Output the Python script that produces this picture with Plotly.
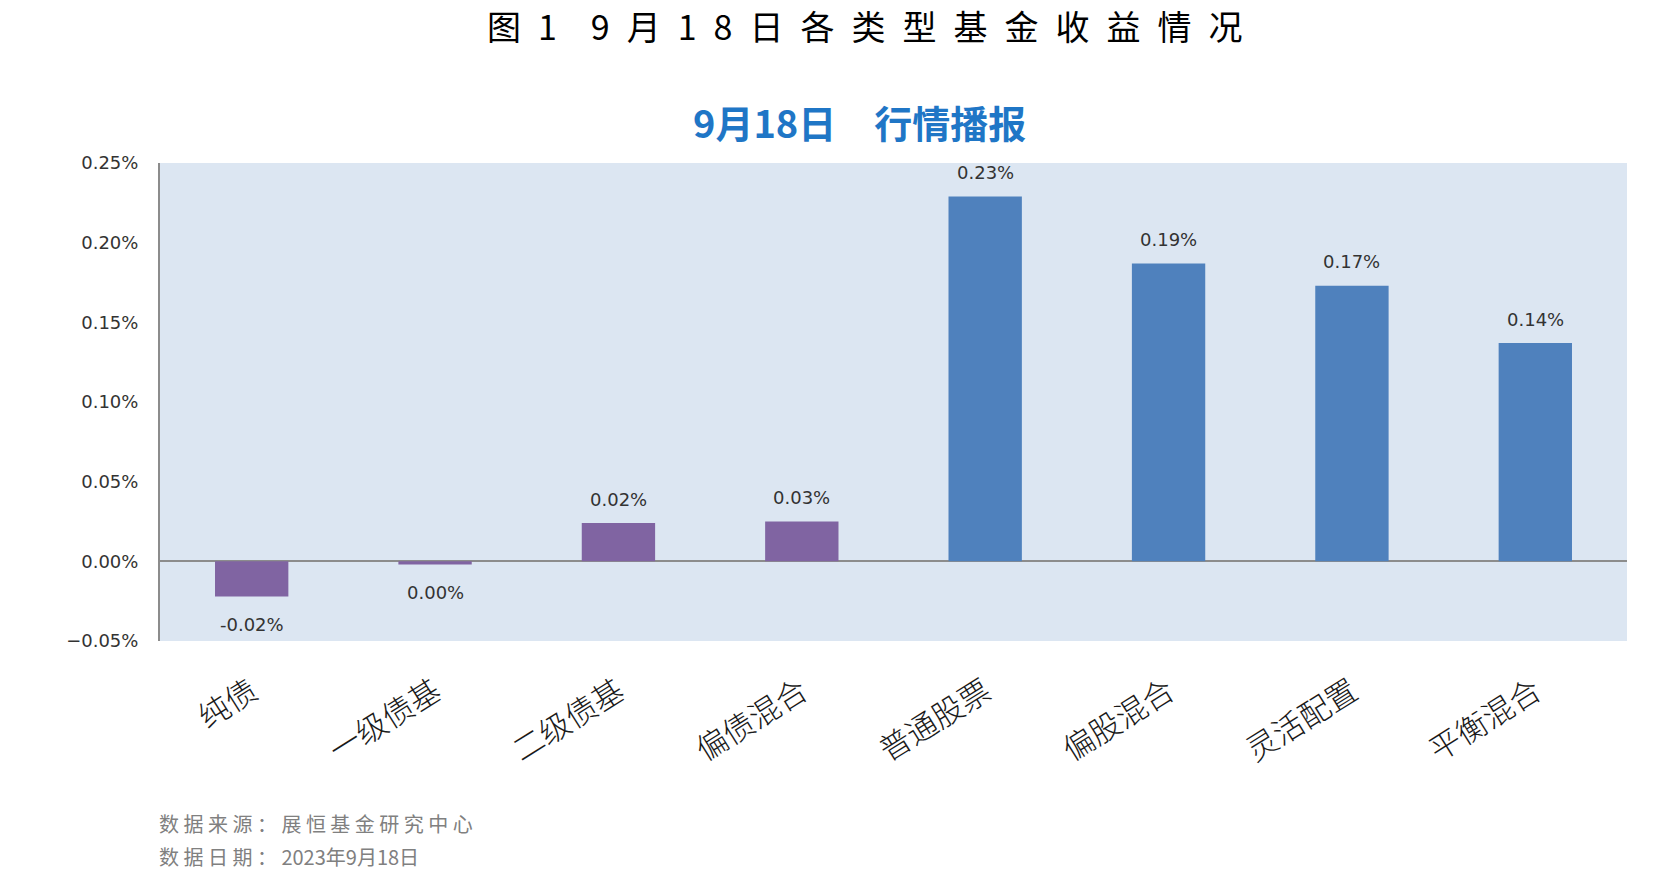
import plotly.graph_objects as go

# Data (% daily return, 2023-09-18)
categories = ["纯债", "一级债基", "二级债基", "偏债混合",
              "普通股票", "偏股混合", "灵活配置", "平衡混合"]
returns = [-0.022, -0.002, 0.024, 0.025, 0.229, 0.187, 0.173, 0.137]
labels = ["-0.02%", "0.00%", "0.02%", "0.03%", "0.23%", "0.19%", "0.17%", "0.14%"]
bond_color = "#8064A2"
equity_color = "#4F81BD"
colors = [bond_color] * 4 + [equity_color] * 4

W, H = 1680, 876
L, R, T, B = 160, 53, 163, 235
plot_w = W - L - R
plot_h = H - T - B


def px_to_paper(x, y):
    # pixel position (from top-left of page) -> paper coords
    return (x - L) / plot_w, (H - B - y) / plot_h


fig = go.Figure(
    go.Bar(
        x=categories, y=returns,
        marker=dict(color=colors, line=dict(width=0)),
        width=0.4,
    )
)

label_font = dict(family="DejaVu Sans", size=18, color="#333333")

# value labels, a bit away from the bar ends
for cat, val, lab in zip(categories, returns, labels):
    fig.add_annotation(
        x=cat, y=val, text=lab, showarrow=False,
        yanchor="middle", yshift=24 if val > 0 else -28,
        font=label_font,
    )

# titles and footnotes
sp = "\u2002"
title = sp.join("图1") + "\u2003" + sp.join("9月18日各类型基金收益情况")
texts = [
    (title, 864, 26, "center",
     dict(family="Noto Sans CJK SC", size=34, color="black")),
    ("<b>9月18日　行情播报</b>", 859, 121, "center",
     dict(family="Noto Sans CJK SC", size=38, color="#1F76C6")),
    ("数 据 来 源 ： 展 恒 基 金 研 究 中 心", 157, 823, "left",
     dict(family="Noto Sans CJK SC", size=20, color="#808080")),
    ("数 据 日 期 ： 2023年9月18日", 157, 856, "left",
     dict(family="Noto Sans CJK SC", size=20, color="#808080")),
]
for txt, px, py, anchor, fnt in texts:
    ax, ay = px_to_paper(px, py)
    fig.add_annotation(
        text=txt, x=ax, y=ay, xref="paper", yref="paper",
        xanchor=anchor, yanchor="middle", showarrow=False, font=fnt,
    )

fig.update_layout(
    width=W, height=H,
    margin=dict(l=L, r=R, t=T, b=B),
    paper_bgcolor="white",
    plot_bgcolor="#DCE6F2",
    showlegend=False,
    xaxis=dict(
        tickangle=-32,
        tickfont=dict(family="Noto Sans CJK SC", size=31, color="#1a1a1a", weight=300),
        ticklabelstandoff=26,
        showline=False, ticks="",
    ),
    yaxis=dict(
        range=[-0.05, 0.25], dtick=0.05, tickformat=".2f", ticksuffix="%",
        showgrid=False,
        zeroline=True, zerolinecolor="#8C8C8C", zerolinewidth=2,
        showline=True, linecolor="#8C8C8C", linewidth=2,
        tickfont=label_font,
        ticklabelstandoff=16,
        ticks="",
    ),
)

# drop the default page margin so the figure sits at the window's top-left
fig.write_html("out.html", config={"displayModeBar": False},
               post_script="document.body.style.margin='0';")
